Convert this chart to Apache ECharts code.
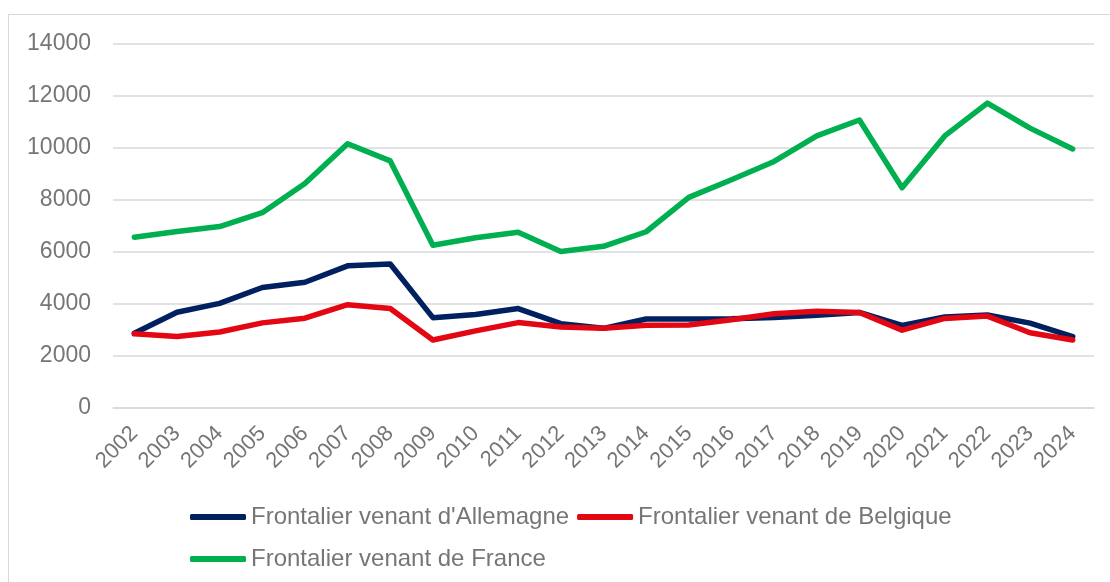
<!DOCTYPE html>
<html>
<head>
<meta charset="utf-8">
<script src="https://cdn.jsdelivr.net/npm/echarts@6/dist/echarts.min.js"></script>
<style>
  html, body { margin: 0; padding: 0; background: #fff; }
  .frame {
    position: absolute; left: 8px; top: 14px;
    width: 1120px; height: 600px;
    border: 1px solid #d9d9d9;
  }
  #chart { position: absolute; left: 0; top: 0; width: 1110px; height: 582px; }
</style>
</head>
<body>
<div class="frame"></div>
<div id="chart"></div>
<script>
const years = ['2002', '2003', '2004', '2005', '2006', '2007', '2008', '2009', '2010', '2011', '2012',
  '2013', '2014', '2015', '2016', '2017', '2018', '2019', '2020', '2021', '2022', '2023', '2024']

const allemagne = [2870, 3680, 4020, 4630, 4830, 5460, 5530, 3470, 3590, 3820, 3240,
  3060, 3420, 3420, 3430, 3480, 3560, 3670, 3170, 3500, 3570, 3260, 2740]
const belgique = [2850, 2750, 2920, 3270, 3450, 3970, 3820, 2610, 2960, 3280, 3110,
  3060, 3180, 3190, 3390, 3620, 3720, 3670, 2990, 3440, 3530, 2890, 2610]
const france = [6560, 6780, 6970, 7500, 8620, 10150, 9490, 6250, 6540, 6750, 6010,
  6210, 6770, 8090, 8770, 9470, 10450, 11060, 8460, 10450, 11710, 10750, 9950]

const names = ["Frontalier venant d'Allemagne", 'Frontalier venant de Belgique', 'Frontalier venant de France']
const colors = ['#002060', '#E30613', '#00B050']
const font = '"Liberation Sans", Arial, sans-serif'
const textColor = '#767676'

const chart = echarts.init(document.getElementById('chart'))

const legendBase = {
  orient: 'horizontal',
  left: 190,
  icon: 'roundRect',
  itemWidth: 56,
  itemHeight: 6,
  itemGap: 8,
  padding: 0,
  textStyle: { fontFamily: font, fontSize: 24, color: textColor }
}

chart.setOption({
  animation: false,
  textStyle: { fontFamily: font },
  grid: { left: 113, right: 16, top: 43.5, bottom: 174 },
  legend: [
    Object.assign({}, legendBase, { top: 505, data: [names[0], names[1]] }),
    Object.assign({}, legendBase, { top: 547, data: [names[2]] })
  ],
  xAxis: {
    type: 'category',
    data: years,
    boundaryGap: true,
    axisLine: { lineStyle: { color: '#d9d9d9', width: 1.5 } },
    axisTick: { show: false },
    axisLabel: {
      rotate: 45, interval: 0, margin: 22,
      fontSize: 22, color: textColor, fontFamily: font
    }
  },
  yAxis: {
    type: 'value',
    min: 0, max: 14000, interval: 2000,
    axisLine: { show: false },
    axisTick: { show: false },
    splitLine: { lineStyle: { color: '#d9d9d9', width: 1.5 } },
    axisLabel: {
      fontSize: 23, color: textColor, fontFamily: font, margin: 22,
      formatter: v => String(v)
    }
  },
  series: [
    { name: names[0], type: 'line', data: allemagne },
    { name: names[1], type: 'line', data: belgique },
    { name: names[2], type: 'line', data: france }
  ].map((s, i) => Object.assign(s, {
    symbol: 'none',
    color: colors[i],
    lineStyle: { width: 5.5, color: colors[i], cap: 'round', join: 'round' }
  }))
})
</script>
</body>
</html>
